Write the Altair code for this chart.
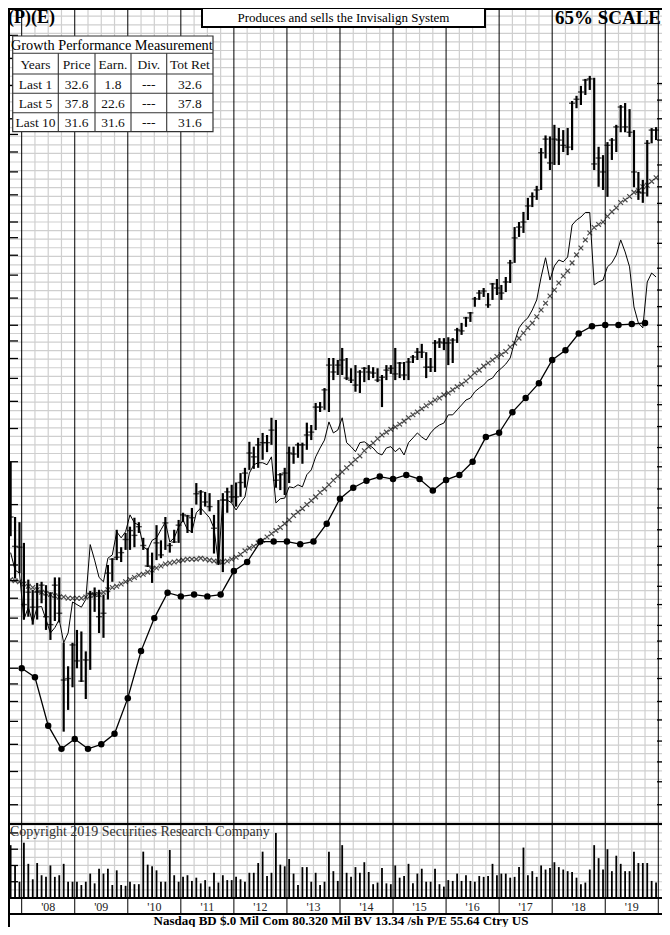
import altair as alt
import pandas as pd

SERIF = "Liberation Serif"
GRID = "#cfcfcf"

# ---------------- data (monthly, Oct 2007 .. Dec 2019) ----------------
START_YEAR = 2007
START_MONTH = 10

high = [
    30.0, 20.7, 20.0,
    17.4, 13.6, 12.7, 13.3, 13.4, 13.1, 12.5, 13.8, 13.8, 8.9, 7.6, 8.9,
    9.7, 9.6, 8.4, 12.6, 12.9, 12.7, 12.3, 15.0, 15.7, 19.0, 16.9, 18.6,
    19.4, 20.6, 20.0, 18.0, 16.8, 16.3, 19.6, 17.7, 20.7, 17.4, 19.0, 20.3,
    21.3, 21.0, 22.0, 26.0, 24.8, 24.5, 24.3, 21.0, 23.2, 24.3, 25.2, 25.7,
    26.1, 27.8, 28.8, 34.3, 33.2, 35.2, 36.4, 35.9, 40.3, 39.7, 27.8, 28.8,
    33.2, 33.2, 34.1, 34.1, 39.0, 38.4, 44.5, 44.8, 49.2, 60.2, 60.2, 59.4,
    64.4, 60.2, 56.2, 57.4, 55.5, 56.6, 57.4, 56.6, 56.2, 53.7, 57.4, 57.4,
    64.4, 58.6, 58.6, 60.2, 61.4, 64.4, 66.2, 62.6, 60.2, 67.9, 68.8, 68.8,
    69.2, 68.8, 73.7, 76.2, 79.3, 82.0, 90.7, 95.0, 96.3, 93.1, 99.6, 102.3,
    98.3, 103.7, 116.3, 145.0, 150.0, 160.5, 176.4, 183.0, 191.2, 246.4, 268.2, 266.4,
    288, 282, 278, 282, 338, 350, 374, 392, 400, 395, 248.5, 235,
    256.5, 263.5, 288, 329, 333.4, 320, 278, 209.9, 199, 260, 281.8, 283.6,
]
low = [
    18.2, 13.7, 14.2,
    10.4, 10.6, 10.05, 10.4, 11.6, 9.7, 9.07, 10.3, 10.2, 4.9, 5.67, 6.6,
    7.5, 6.84, 6.1, 7.42, 10.95, 9.5, 9.2, 11.9, 13.4, 15.5, 15.3, 16.6,
    16.6, 16.9, 18.6, 16.6, 14.8, 13.3, 15.5, 15.7, 16.6, 16.3, 17.4, 17.4,
    20.0, 18.6, 18.6, 22.5, 21.0, 22.2, 21.5, 16.2, 15.0, 14.3, 21.3, 22.8,
    22.2, 23.7, 25.2, 28.4, 28.6, 28.8, 30.4, 32.0, 33.6, 25.2, 24.8, 24.0,
    26.0, 29.6, 30.8, 29.6, 32.5, 34.7, 37.1, 41.9, 42.5, 41.9, 51.9, 53.7,
    53.7, 51.9, 50.9, 48.0, 47.6, 51.2, 51.9, 52.6, 51.2, 43.3, 51.9, 54.1,
    51.9, 52.6, 51.9, 51.9, 58.2, 59.4, 60.2, 52.6, 54.8, 54.8, 64.4, 63.5,
    57.4, 58.2, 66.6, 70.3, 74.2, 76.7, 84.9, 88.9, 90.7, 84.3, 88.9, 91.9,
    88.9, 93.7, 99.6, 114.0, 135.7, 139.4, 152.0, 165.8, 174.0, 186.0, 229.8, 212.7,
    220, 220, 240, 235, 243, 322, 329, 352, 364, 212.7, 190, 186,
    177.6, 227.5, 240, 274, 274, 265.5, 189.5, 174, 170.6, 178, 254.4, 260,
]
close = [
    20.7, 17.0, 16.9,
    11.5, 12.5, 11.3, 12.5, 13.1, 10.6, 10.05, 13.1, 10.85, 6.93, 7.0, 8.77,
    7.88, 6.88, 7.93, 12.4, 12.3, 10.6, 10.85, 14.2, 15.6, 15.8, 16.3, 17.8,
    18.9, 18.3, 19.4, 17.1, 14.9, 14.8, 17.4, 16.05, 19.9, 17.1, 17.5, 19.6,
    21.0, 20.85, 20.6, 24.2, 24.5, 22.9, 22.2, 19.2, 15.3, 23.2, 24.5, 23.7,
    23.7, 26.1, 27.8, 31.8, 31.0, 33.6, 34.1, 34.1, 37.1, 26.5, 27.5, 27.8,
    31.8, 31.6, 33.6, 33.6, 35.9, 36.6, 43.3, 43.3, 48.6, 57.4, 54.8, 57.4,
    59.4, 52.6, 51.9, 50.2, 54.8, 56.2, 54.8, 54.4, 51.9, 52.9, 55.5, 56.2,
    54.1, 58.2, 53.7, 58.6, 60.6, 62.6, 62.6, 56.6, 56.6, 66.6, 67.0, 66.6,
    66.6, 67.9, 72.7, 72.2, 78.8, 81.5, 89.5, 93.1, 94.4, 86.0, 99.0, 96.3,
    93.1, 100.3, 114.0, 134.8, 145.0, 150.0, 167.1, 178.0, 186.0, 238.7, 261.7, 223.0,
    261.7, 260, 251, 248, 333, 342, 359, 389, 392, 221.5, 230.5, 209.9,
    251, 260, 284, 324.6, 284, 274, 209.9, 183.5, 182.3, 254.4, 278, 278,
]
volume = [
    6.5, 4.0, 2.0,
    6.8, 4.2, 2.3, 4.3, 2.8, 2.6, 4.0, 2.6, 2.8, 4.2, 2.0, 2.0,
    2.0, 1.6, 2.0, 3.0, 1.8, 3.6, 3.0, 3.6, 1.6, 3.4, 1.6, 1.5,
    2.0, 1.7, 1.7, 5.7, 4.1, 3.9, 3.4, 2.0, 2.0, 5.9, 2.8, 2.0,
    2.6, 2.8, 2.1, 2.5, 1.8, 2.2, 1.4, 3.1, 1.9, 2.8, 2.2, 2.2,
    2.6, 2.3, 2.0, 3.1, 3.1, 4.3, 5.7, 2.7, 3.1, 8.0, 4.1, 3.9,
    4.8, 3.0, 1.6, 3.8, 3.8, 2.0, 3.1, 1.6, 2.0, 5.7, 3.3, 2.1,
    6.5, 3.1, 2.6, 3.8, 3.1, 4.4, 3.2, 1.7, 1.9, 3.7, 1.8, 1.7,
    4.0, 2.5, 2.7, 4.2, 1.8, 3.0, 3.6, 2.0, 2.0, 3.6, 1.7, 1.4,
    2.2, 2.1, 3.0, 2.1, 2.8, 2.1, 2.0, 2.7, 2.6, 2.7, 4.2, 2.8,
    3.0, 3.0, 2.5, 2.6, 3.8, 6.2, 2.8, 3.3, 2.6, 4.0, 3.5, 3.7,
    4.4, 3.8, 3.5, 3.3, 3.2, 2.5, 1.7, 1.9, 3.5, 6.5, 4.9, 3.5,
    6.0, 3.3, 5.2, 4.2, 3.3, 3.3, 5.7, 4.3, 4.3, 4.3, 2.1, 1.9,
]
moving_avg = [
    13.6, 13.5, 13.4,
    13.2, 13.0, 12.9, 12.7, 12.5, 12.4, 12.3, 12.2, 12.1, 12.1, 12.0, 12.0,
    12.0, 12.0, 12.1, 12.2, 12.3, 12.3, 12.5, 12.7, 12.9, 13.0, 13.2, 13.4,
    13.6, 13.8, 14.0, 14.1, 14.3, 14.5, 14.7, 14.9, 15.1, 15.2, 15.3, 15.4,
    15.5, 15.6, 15.6, 15.6, 15.7, 15.6, 15.5, 15.4, 15.3, 15.3, 15.4, 15.6,
    15.8, 16.1, 16.5, 16.8, 17.0, 17.4, 17.7, 18.1, 18.5, 18.9, 19.3, 19.8,
    20.3, 20.9, 21.4, 21.9, 22.5, 23.1, 23.7, 24.4, 25.0, 25.7, 26.5, 27.2,
    28.0, 28.8, 29.6, 30.4, 31.2, 32.3, 33.2, 34.0, 35.0, 35.9, 36.6, 37.3,
    37.9, 38.6, 39.4, 40.3, 41.1, 41.9, 42.8, 43.7, 44.5, 45.4, 46.0, 47.0,
    47.6, 48.6, 49.6, 50.5, 51.6, 53.0, 54.5, 55.5, 57.0, 58.2, 59.4, 60.8,
    61.6, 62.9, 64.8, 66.5, 68.8, 71.2, 73.8, 76.1, 79.4, 83.1, 87.0, 91.3,
    95.0, 99.6, 104.4, 108.0, 114.0, 120.3, 126.0, 133.0, 139.3, 144.6, 147.6, 150.0,
    155.8, 160.6, 165.0, 171.0, 174.0, 178.0, 183.0, 185.0, 190.0, 192.0, 197.0, 202.0,
]
rel_strength = [
    16.3, 14.5, 14.2,
    10.4, 11.3, 10.2, 11.3, 11.35, 10.4, 9.5, 9.85, 10.4, 8.9, 9.5, 11.7,
    11.5, 11.3, 11.9, 17.2, 15.5, 13.8, 13.4, 15.7, 16.05, 18.75, 18.0, 18.75,
    21.0, 19.9, 19.6, 16.95, 16.6, 17.7, 18.0, 19.0, 20.0, 17.5, 18.0, 19.35,
    20.3, 19.0, 18.75, 21.3, 22.0, 21.3, 20.6, 19.2, 15.2, 23.2, 23.2, 22.75,
    21.7, 22.75, 23.7, 27.8, 29.4, 29.8, 29.8, 29.4, 31.0, 22.75, 23.4, 23.5,
    25.35, 25.2, 25.7, 25.35, 27.5, 28.4, 31.0, 32.9, 34.7, 39.2, 36.4, 37.1,
    40.3, 34.1, 33.2, 32.1, 34.1, 34.3, 33.6, 32.9, 31.8, 31.4, 32.9, 33.2,
    32.1, 32.9, 31.4, 34.1, 35.2, 36.4, 35.4, 34.7, 36.4, 37.6, 38.4, 38.9,
    41.1, 41.1, 42.5, 43.9, 45.4, 46.0, 48.0, 49.2, 50.2, 51.9, 52.6, 54.8,
    56.2, 57.8, 60.2, 67.0, 73.7, 76.7, 78.8, 83.1, 88.9, 103.7, 118.0, 101.6,
    111.7, 116.3, 114.8, 118.6, 147.0, 152.0, 155.1, 159.9, 159.9, 98.3, 100.3, 101.6,
    111.0, 114.0, 120.2, 133.0, 122.7, 111.0, 84.8, 76.1, 73.7, 100.3, 106.5, 103.7,
]

# quarterly trailing earnings per share, quarter ends Q4 2007 .. Q3 2019
eps = [
    0.50, 0.471, 0.340, 0.291, 0.311, 0.291, 0.300, 0.322, 0.409, 0.561, 0.70, 0.83,
    0.81, 0.82, 0.81, 0.82, 0.96, 1.02, 1.17, 1.17, 1.17, 1.15, 1.17, 1.32,
    1.56, 1.68, 1.76, 1.81, 1.78, 1.83, 1.78, 1.65, 1.77, 1.83, 2.00, 2.36,
    2.43, 2.79, 3.07, 3.39, 3.96, 4.23, 4.73, 4.97, 5.01, 5.01, 5.04, 5.08,
]
EPS_FIRST_QUARTER_END = 2008.0
EARNINGS_MULTIPLE = 15  # earnings line plotted at 15x

eps_tick_values = [0.2, 0.25, 0.3, 0.35, 0.4, 0.45, 0.5, 0.6, 0.7, 0.8, 0.9, 1.0, 1.5,
                   2.0, 2.5, 3.0, 3.5, 4.0, 4.5, 5.0, 6.0, 7.0, 8.0, 9.0, 10, 12, 14,
                   16, 18, 20, 25, 30, 35]
price_tick_values_right = [380, 340, 300, 260, 220, 190, 170, 150, 130, 110, 95, 85,
                           75, 65, 57, 50, 44, 38, 33, 29, 25, 22, 19, 17, 15, 13,
                           11.5, 10, 9, 8, 7, 6, 5.3, 4.6, 4, 3.5, 3]
volume_tick_values = [2, 4, 6, 8]
year_labels = ["'08", "'09", "'10", "'11", "'12", "'13", "'14", "'15", "'16", "'17", "'18", "'19"]
FIRST_LABEL_YEAR = 2008

table_title = "Growth Performance Measurement"
table_cols = ["Years", "Price", "Earn.", "Div.", "Tot Ret"]
table_rows = [
    ["Last 1", "32.6", "1.8", "---", "32.6"],
    ["Last 5", "37.8", "22.6", "---", "37.8"],
    ["Last 10", "31.6", "31.6", "---", "31.6"],
]
header_text = "Produces and sells the Invisalign System"
scale_text = "65% SCALE"
logo_text = "(P)(E)"
copyright_text = "Copyright 2019 Securities Research Company"
footer_text = "Nasdaq BD   $.0 Mil Com 80.320 Mil BV 13.34 /sh   P/E 55.64 Ctry US"

# ---------------- layout ----------------
W, H = 654, 919
PX_PER_YEAR = 53.05
X_START = 2007.742
X_DOMAIN = [X_START, X_START + W / PX_PER_YEAR]
PRICE_DOMAIN = [2.636, 631.0]
PRICE_RANGE = [816, 0]
VOL_DOMAIN = [0, 9.1]
VOL_RANGE = [890, 816]
Y_VOL_BASE, Y_BAND_BOTTOM, Y_DIVIDER = 890, 906, 816

xs = alt.Scale(domain=X_DOMAIN, range=[0, W], nice=False, zero=False)
ps = alt.Scale(type="log", domain=PRICE_DOMAIN, range=PRICE_RANGE, nice=False)
vs = alt.Scale(domain=VOL_DOMAIN, range=VOL_RANGE, nice=False, zero=False)


def XQ(f):
    return alt.X(f, type="quantitative", scale=xs, axis=None)


def YP(f):
    return alt.Y(f, type="quantitative", scale=ps, axis=None)


def YV(f):
    return alt.Y(f, type="quantitative", scale=vs, axis=None)


n = len(close)
t_month = []
for i in range(n):
    m = START_MONTH - 1 + i
    t_month.append(START_YEAR + m // 12 + (m % 12 + 0.5) / 12)
monthly = pd.DataFrame({"t": t_month, "high": high, "low": low, "close": close,
                        "vol": volume, "ma": moving_avg, "rs": rel_strength})
earn = pd.DataFrame({"t": [EPS_FIRST_QUARTER_END + 0.25 * k for k in range(len(eps))],
                     "eps": eps})
earn["plot"] = earn["eps"] * EARNINGS_MULTIPLE

grid_price = pd.DataFrame({"v": [10 ** (k / 40) * EARNINGS_MULTIPLE for k in range(-30, 65)]})
grid_vol = pd.DataFrame({"v": list(range(1, 10))})
years = list(range(2008, 2021))
quarters = [2007.75] + [y + q for y in range(2008, 2020) for q in (0.25, 0.5, 0.75)]

layers = []
layers.append(alt.Chart(grid_price).mark_rule(color=GRID, strokeWidth=1.2).encode(
    y=YP("v"), x=alt.value(0), x2=alt.value(W)))
layers.append(alt.Chart(grid_vol).mark_rule(color=GRID, strokeWidth=1.2).encode(
    y=YV("v"), x=alt.value(0), x2=alt.value(W)))
layers.append(alt.Chart(pd.DataFrame({"t": quarters})).mark_rule(color=GRID, strokeWidth=1.2).encode(
    x=XQ("t"), y=alt.value(0), y2=alt.value(Y_VOL_BASE)))
layers.append(alt.Chart(pd.DataFrame({"t": years})).mark_rule(color="black", strokeWidth=1).encode(
    x=XQ("t"), y=alt.value(0), y2=alt.value(Y_BAND_BOTTOM)))

# frame lines
for (xa, xb, ya, yb) in [(0, W, 1, 1), (1, 1, 0, H), (0, W, Y_DIVIDER, Y_DIVIDER),
                         (0, W, Y_VOL_BASE, Y_VOL_BASE), (0, W, Y_BAND_BOTTOM, Y_BAND_BOTTOM)]:
    layers.append(alt.Chart(pd.DataFrame({"a": [0]})).mark_rule(color="black", strokeWidth=2).encode(
        x=alt.value(xa), x2=alt.value(xb), y=alt.value(ya), y2=alt.value(yb)))

# axis ticks (inside the frame)
layers.append(alt.Chart(pd.DataFrame({"v": [v * EARNINGS_MULTIPLE for v in eps_tick_values]}))
              .mark_rule(color="black", strokeWidth=1.3).encode(y=YP("v"), x=alt.value(0), x2=alt.value(10)))
layers.append(alt.Chart(pd.DataFrame({"v": price_tick_values_right}))
              .mark_rule(color="black", strokeWidth=1.3).encode(y=YP("v"), x=alt.value(W - 5), x2=alt.value(W)))
layers.append(alt.Chart(pd.DataFrame({"v": volume_tick_values}))
              .mark_rule(color="black", strokeWidth=1.3).encode(y=YV("v"), x=alt.value(0), x2=alt.value(10)))

# moving average crosses
layers.append(alt.Chart(monthly).mark_point(shape="M-1,-1L1,1M-1,1L1,-1", size=22, filled=False,
                                            color="black", strokeWidth=1.2).encode(x=XQ("t"), y=YP("ma")))
# relative strength line
layers.append(alt.Chart(monthly).mark_line(color="black", strokeWidth=1).encode(x=XQ("t"), y=YP("rs")))
# earnings line
layers.append(alt.Chart(earn).mark_line(color="black", strokeWidth=1.3).encode(x=XQ("t"), y=YP("plot")))
layers.append(alt.Chart(earn).mark_circle(color="black", size=42, opacity=1).encode(x=XQ("t"), y=YP("plot")))
# price bars
layers.append(alt.Chart(monthly).mark_rule(color="black", strokeWidth=2.2).encode(
    x=XQ("t"), y=YP("high"), y2="low"))
layers.append(alt.Chart(monthly).mark_tick(orient="horizontal", color="black", size=6, thickness=1.4).encode(
    x=XQ("t"), y=YP("close")))
# volume bars
layers.append(alt.Chart(monthly).mark_rule(color="black", strokeWidth=1.8).encode(
    x=XQ("t"), y=YV("vol"), y2=alt.datum(0)))

# year labels
ylab = pd.DataFrame({"t": [FIRST_LABEL_YEAR + i + 0.5 for i in range(len(year_labels))], "s": year_labels})
layers.append(alt.Chart(ylab).mark_text(font=SERIF, fontSize=12, color="#222", baseline="middle").encode(
    x=XQ("t"), y=alt.value(898.5), text="s:N"))

# table
TBL_X = [4.7, 50.3, 87.0, 123.0, 158.7, 205.0]
TBL_Y = [28.0, 45.3, 66.0, 85.3, 104.7, 123.7]
layers.append(alt.Chart(pd.DataFrame({"a": [0]})).mark_rect(fill="white", stroke="#333", strokeWidth=1.2).encode(
    x=alt.value(TBL_X[0]), x2=alt.value(TBL_X[-1]), y=alt.value(TBL_Y[0]), y2=alt.value(TBL_Y[-1])))
tlines = []
for yv in TBL_Y[1:-1]:
    tlines.append({"xa": TBL_X[0], "xb": TBL_X[-1], "ya": yv, "yb": yv})
for xv in TBL_X[1:-1]:
    tlines.append({"xa": xv, "xb": xv, "ya": TBL_Y[1], "yb": TBL_Y[-1]})
layers.append(alt.Chart(pd.DataFrame(tlines)).mark_rule(color="#333", strokeWidth=1.1).encode(
    x=alt.X("xa:Q", scale=None), x2="xb:Q", y=alt.Y("ya:Q", scale=None), y2="yb:Q"))
cells = []
for r, row in enumerate([table_cols] + table_rows):
    for c, txt in enumerate(row):
        cells.append({"s": txt, "px": (TBL_X[c] + TBL_X[c + 1]) / 2,
                      "py": (TBL_Y[r + 1] + TBL_Y[r + 2]) / 2 + 1})
layers.append(alt.Chart(pd.DataFrame(cells)).mark_text(font=SERIF, fontSize=13.5, color="#111",
                                                       baseline="middle", align="center").encode(
    x=alt.X("px:Q", scale=None), y=alt.Y("py:Q", scale=None), text="s:N"))


def label(text, x, y, size, weight="normal", align="left", color="#000", limit=0):
    return alt.Chart(pd.DataFrame({"s": [text]})).mark_text(
        font=SERIF, fontSize=size, fontWeight=weight, align=align, baseline="middle",
        color=color, limit=limit, ellipsis="\u200b").encode(x=alt.value(x), y=alt.value(y), text="s:N")


layers.append(label(table_title, 3, 37.5, 14.3, limit=TBL_X[-1] - 3))

# header
layers.append(alt.Chart(pd.DataFrame({"a": [0]})).mark_rect(fill="white", stroke="black", strokeWidth=2).encode(
    x=alt.value(194), x2=alt.value(477), y=alt.value(0), y2=alt.value(19)))
layers.append(label(header_text, 335.5, 10, 13, align="center"))
layers.append(label(scale_text, W - 1, 10, 19, weight="bold", align="right"))
layers.append(label(logo_text, 0, 10, 18, weight="bold"))
layers.append(label(copyright_text, 2, 824, 14, color="#333"))
layers.append(label(footer_text, 333, 912.5, 13, weight="bold", align="center"))

chart = alt.layer(*layers).resolve_scale(x="independent", y="independent").properties(
    width=W, height=H, padding=0, background="white",
    autosize=alt.AutoSizeParams(type="none"),
).configure_view(stroke=None)

chart.save("out.html", embed_options={"renderer": "svg", "actions": False})
